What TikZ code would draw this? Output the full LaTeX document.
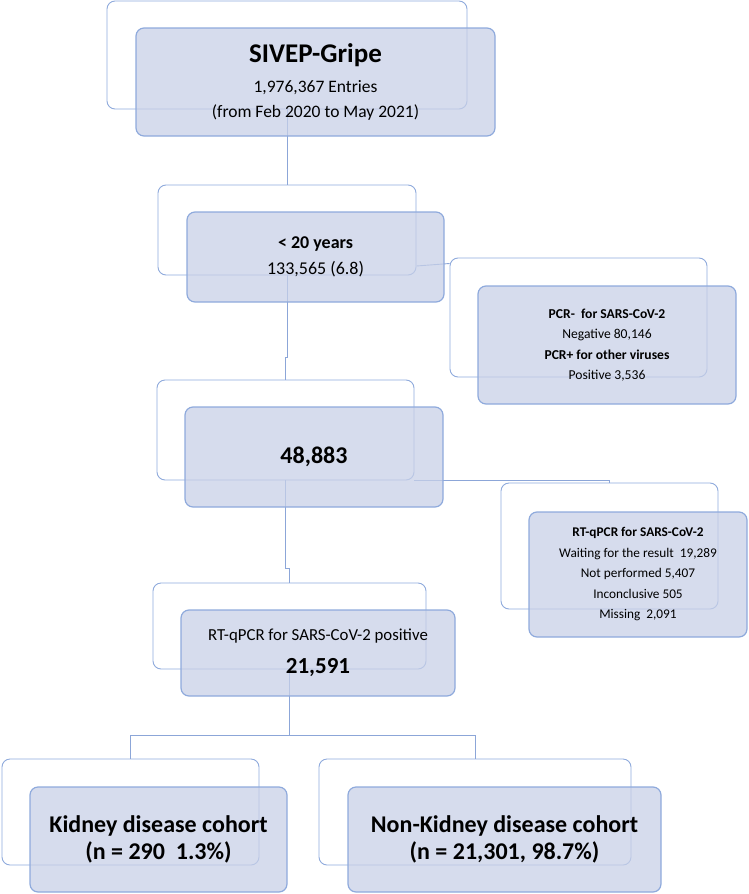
\documentclass[tikz,border=0pt]{standalone}
\usepackage{fontspec}
\setmainfont{Carlito}
\usepackage{xcolor}
\usepackage{tikz}
\usetikzlibrary{positioning, calc}
\definecolor{boxfill}{RGB}{200,208,231}
\definecolor{boxline}{RGB}{143,170,220}
\definecolor{wireblue}{RGB}{140,166,216}

\begin{document}
\begin{tikzpicture}[x=1pt, y=-1pt,
  backbox/.style={rectangle, rounded corners=8pt, draw=boxline,
                  line width=0.9pt, inner sep=0pt},
  frontbox/.style={rectangle, rounded corners=8pt, draw=boxline,
                   line width=1.2pt, fill=boxfill, fill opacity=0.75,
                   text opacity=1, align=center, inner sep=0pt},
  link/.style={draw=wireblue, line width=0.9pt},
  bignum/.style={font=\fontsize{24}{27}\selectfont\bfseries},
  tiny/.style={font=\fontsize{13.3}{20.5}\selectfont}
]
\useasboundingbox (0,0) rectangle (749,894);

% === back outlines ===========================================================
\node[backbox, minimum width=360pt, minimum height=108pt] (SB) at (287,   55)   {};
\node[backbox, minimum width=258pt, minimum height=90pt]  (AB) at (287,  230)   {};
\node[backbox, minimum width=257pt, minimum height=119pt] (NB) at (578.5,317.5) {};
\node[backbox, minimum width=257pt, minimum height=100pt] (EB) at (285.5,430)   {};
\node[backbox, minimum width=217pt, minimum height=126pt] (XB) at (609.5,546)   {};
\node[backbox, minimum width=273pt, minimum height=86pt]  (QB) at (289.5,626)   {};
\node[backbox, minimum width=257pt, minimum height=106pt] (KB) at (130.5,812)   {};
\node[backbox, minimum width=312pt, minimum height=106pt] (CB) at (475,  812)   {};

% === connectors ==============================================================
\draw[link] (SB.south) -- (AB.north);
\draw[link] ([yshift=-36pt]AB.east) -- ([yshift=54pt]NB.west);
\draw[link] (AB.south) -- ++(0,82) -| (EB.north);
\draw[link] (EB.south east) -| (XB.north);
\draw[link] (EB.south) -- ++(0,88) -| (QB.north);
\draw[link] (QB.south) -- ++(0,66) coordinate (fork);
\draw[link] (fork) -| (KB.north);
\draw[link] (fork) -| (CB.north);

% === front boxes =============================================================
\node[frontbox, minimum width=359pt, minimum height=108pt,
      font=\fontsize{17.5}{25}\selectfont] (SF) at (315.5,82)
  {{\fontsize{27}{30}\selectfont\bfseries SIVEP-Gripe}\\[5pt]
   1,976,367 Entries\\ (from Feb 2020 to May 2021)};

\node[frontbox, minimum width=257pt, minimum height=90pt,
      font=\fontsize{18}{26}\selectfont] (AF) at (315.5,257)
  {\textbf{< 20 years}\\ 133,565 (6.8)};

\node[frontbox, tiny, minimum width=258pt, minimum height=118pt,
      font=\fontsize{13.6}{20.5}\selectfont] (NF) at (607,345)
  {\textbf{PCR-~ for SARS-CoV-2}\\ Negative 80,146\\
   \textbf{PCR+ for other viruses}\\ Positive 3,536};

\node[frontbox, bignum, minimum width=258pt, minimum height=100pt] (EF) at (314,457)
  {48,883};

\node[frontbox, tiny, minimum width=218pt, minimum height=125pt] (XF) at (638,574.5)
  {\textbf{RT-qPCR for SARS-CoV-2}\\ Waiting for the result~ 19,289\\
   Not performed 5,407\\ Inconclusive 505\\ Missing~ 2,091};

\node[frontbox, minimum width=274pt, minimum height=86pt,
      font=\fontsize{16.8}{26}\selectfont] (QF) at (318,653)
  {RT-qPCR for SARS-CoV-2 positive\\[7pt]
   {\fontsize{23}{26}\selectfont\bfseries 21,591}};

\node[frontbox, bignum, minimum width=257pt, minimum height=105pt] (KF) at (158.5,839.5)
  {Kidney disease cohort\\ (n = 290~ 1.3\%)};

\node[frontbox, bignum, minimum width=313pt, minimum height=105pt] (CF) at (504.5,839.5)
  {Non-Kidney disease cohort\\ (n = 21,301, 98.7\%)};

\end{tikzpicture}
\end{document}
